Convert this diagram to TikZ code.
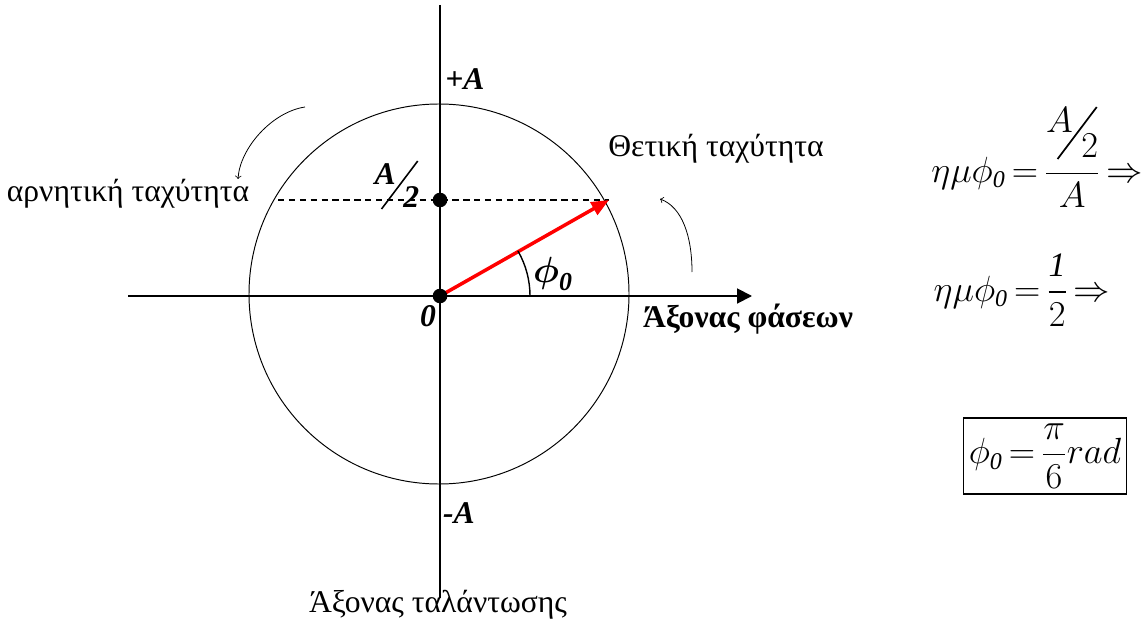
\documentclass[tikz,border=0pt]{standalone}
\usepackage{amsmath}
\usepackage{graphicx}
\usepackage{fontspec}
\setmainfont{Liberation Serif}
\usetikzlibrary{arrows, arrows.meta}
\thickmuskip=3mu
\tikzstyle{axis} = [line width=1.1pt]
\tikzstyle{rim} = [line width=0.55pt]
\tikzstyle{phasor} = [line width=2pt, red, -{Triangle[length=10pt, width=8pt]}]
\tikzstyle{turn} = [line width=0.45pt, ->, >=to]
\tikzstyle{word} = [font=\fontsize{18}{21}\selectfont, inner sep=0pt]
\tikzstyle{axislabel} = [font=\fontsize{18}{21}\selectfont\bfseries\itshape, inner sep=0pt]
\tikzstyle{eqn} = [font=\fontsize{19.5}{23}\selectfont, inner sep=0pt]
\newcommand{\slfrac}[2]{\raisebox{0.75em}{#1}\kern-0.47em\raisebox{-0.05em}{\rotatebox{53}{\rule{1.9em}{0.05em}}}\kern-0.47em{#2}}

\begin{document}
\begin{tikzpicture}[x=0.02cm, y=-0.02cm]
                \useasboundingbox (0,0) rectangle (1141,621);

% ---------------------------------------------
% Axes and circle
% ---------------------------------------------
                \coordinate (O) at (440,296);
                \coordinate (top) at (440,5);
                \coordinate (bottom) at (440,598);
                \coordinate (west) at (128,296);
                \coordinate (east) at (752,296);
                \coordinate (half) at (440,200);
                \coordinate (dleft) at (278,200);
                \coordinate (tip) at (609,200);

                \draw [axis] (top) -- (bottom);
                \draw [axis, -{Triangle[length=8.5pt, width=8.5pt]}] (west) -- (east);
                \draw [rim] (439,294) circle [x radius=190, y radius=190];
                \draw [axis, dash pattern=on 3.6pt off 2.6pt] (dleft) -- (tip);
                \draw [phasor] (O) -- (tip);
                \draw [line width=0.8pt] (530,296) arc [start angle=0, end angle=-30, radius=90];
                \fill (half) circle (0.146cm);
                \fill (O) circle (0.146cm);

% ---------------------------------------------
% Labels on the axes
% ---------------------------------------------
                \node (plusA) [axislabel] at (465,79) {+A};
                \node (minusA) [axislabel] at (459,513) {-A};
                \node (zero) [axislabel] at (428,316) {0};
                \node (halfA) [axislabel] at (397,185) {\slfrac{A}{2}};
                \node (phi) [eqn, font=\fontsize{21}{24}\selectfont] at (553,274) {$\boldsymbol{\phi}_{\boldsymbol{\mathit{0}}}$};
                \node (phase) [word, font=\fontsize{18}{21}\selectfont\bfseries] at (748,319) {Άξονας φάσεων};
                \node (osc) [word] at (438,605) {Άξονας ταλάντωσης};
                \node (pos) [word] at (716,149) {Θετική ταχύτητα};
                \node (neg) [word] at (128,194) {αρνητική ταχύτητα};

% ---------------------------------------------
% Sense of rotation
% ---------------------------------------------
                \coordinate (ls) at (305,107);
                \coordinate (le) at (238,179);
                \coordinate (rs) at (692,272);
                \coordinate (re) at (660,199);
                \draw [turn] (ls) .. controls (272,112) and (240,148) .. (le);
                \draw [turn] (rs) .. controls (692,236) and (682,207) .. (re);

% ---------------------------------------------
% Equations
% ---------------------------------------------
                \node (eq1) [eqn] at (1037,157) {$\eta\mu\phi_{\mathit{0}}=\dfrac{\text{\slfrac{$A$}{$2$}}}{A}\Rightarrow$};
                \node (eq2) [eqn] at (1022,290) {$\eta\mu\phi_{\mathit{0}}=\dfrac{\mathit{1}}{2}\Rightarrow$};
                \node (eq3) [eqn, draw, line width=0.9pt, inner xsep=3pt, inner ysep=3pt] at (1045,456) {$\phi_{\mathit{0}}=\dfrac{\pi}{6}rad$};
            \end{tikzpicture}
\end{document}
